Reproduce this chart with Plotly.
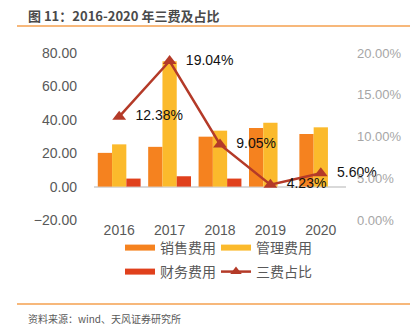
import plotly.graph_objects as go

years = ["2016", "2017", "2018", "2019", "2020"]
sales_fee = [20.2, 23.8, 29.9, 35.1, 31.5]
admin_fee = [25.3, 75.0, 33.5, 38.3, 35.5]
finance_fee = [4.8, 6.2, 4.8, 0.0, 0.0]
fee_ratio = [0.1238, 0.1904, 0.0905, 0.0423, 0.0560]
left_ticks = [-20, 0, 20, 40, 60, 80]
right_ticks = [0, 0.05, 0.10, 0.15, 0.20]

C_SALES = "#F5821F"
C_ADMIN = "#FBBA2C"
C_FIN = "#E0401C"
C_LINE = "#B43A28"
FONT = "Liberation Sans, Noto Sans CJK SC, sans-serif"
CJK = "Noto Sans CJK SC, sans-serif"

W, H = 414, 333
L, R, T, B = 94, 68, 53, 113
pw, ph = W - L - R, H - T - B

def px(x):
    return (x - L) / pw

def py(y):
    return (H - B - y) / ph

fig = go.Figure()
for name, vals, col in [("销售费用", sales_fee, C_SALES), ("管理费用", admin_fee, C_ADMIN), ("财务费用", finance_fee, C_FIN)]:
    fig.add_trace(go.Bar(x=years, y=vals, name=name, marker=dict(color=col, line=dict(width=0)),
                         showlegend=False))

fig.add_trace(go.Scatter(
    x=years, y=fee_ratio, name="三费占比", yaxis="y2", mode="lines+markers+text",
    line=dict(color=C_LINE, width=2.5),
    marker=dict(symbol="triangle-up", size=12, color=C_LINE),
    text=["  " + f"{v*100:.2f}%" for v in fee_ratio], textposition="middle right",
    textfont=dict(family=FONT, size=14, color="#111111"),
    showlegend=False, cliponaxis=False,
))

# legend entries, one legend each for exact placement
legend_items = [
    ("销售费用", C_SALES, "legend", 120, 248, False),
    ("管理费用", C_ADMIN, "legend2", 216, 248, False),
    ("财务费用", C_FIN, "legend3", 120, 272, False),
    ("三费占比", C_LINE, "legend4", 216, 272, True),
]
for name, col, lg, _, _, is_line in legend_items:
    if is_line:
        fig.add_trace(go.Scatter(x=[None], y=[None], name=name, mode="lines+markers",
                                 line=dict(color=col, width=2.5),
                                 marker=dict(symbol="triangle-up", size=10, color=col),
                                 legend=lg))
    else:
        fig.add_trace(go.Scatter(x=[None], y=[None], name=name, mode="lines",
                                 line=dict(color=col, width=6), legend=lg))

leg_common = dict(orientation="h", xanchor="left", yanchor="middle", itemwidth=30,
                  bgcolor="rgba(0,0,0,0)",
                  font=dict(family=CJK, size=14, color="#595959"))
legends = {}
for name, col, lg, lx, ly, _ in legend_items:
    legends[lg] = dict(x=px(lx), y=py(ly), **leg_common)

fig.update_layout(
    width=W, height=H,
    margin=dict(l=L, r=R, t=T, b=B),
    paper_bgcolor="white", plot_bgcolor="white",
    barmode="group", bargap=0.15, bargroupgap=0,
    xaxis=dict(type="category", showgrid=False, showline=False, ticks="",
               tickfont=dict(family=FONT, size=14, color="#595959"), zeroline=False),
    yaxis=dict(range=[-20, 80], tickvals=left_ticks, tickformat=".2f", showgrid=False,
               zeroline=True, zerolinecolor="#D9D9D9", zerolinewidth=1.5,
               ticks="", ticklabelstandoff=16,
               tickfont=dict(family=FONT, size=14, color="#595959")),
    yaxis2=dict(range=[0, 0.2], tickvals=right_ticks, tickformat=".2%", overlaying="y",
                side="right", showgrid=False, zeroline=False, ticks="", ticklabelstandoff=10,
                tickfont=dict(family=FONT, size=13, color="#A6A6A6")),
    shapes=[
        dict(type="line", xref="paper", yref="paper", x0=px(17), x1=px(410), y0=py(26), y1=py(26),
             line=dict(color="#F4A04F", width=1.5)),
        dict(type="line", xref="paper", yref="paper", x0=px(17), x1=px(410), y0=py(304), y1=py(304),
             line=dict(color="#F4A04F", width=1.5)),
    ],
    annotations=[
        dict(text="<b>图 11：2016-2020 年三费及占比</b>", xref="paper", yref="paper",
             x=px(26), y=py(15), xanchor="left", yanchor="middle", showarrow=False,
             font=dict(family=CJK, size=13, color="#4a4a4a")),
        dict(text="资料来源：wind、天风证券研究所", xref="paper", yref="paper",
             x=px(26), y=py(318), xanchor="left", yanchor="middle", showarrow=False,
             font=dict(family=CJK, size=10, color="#595959")),
    ],
    **legends,
)

fig.write_html("out.html")
